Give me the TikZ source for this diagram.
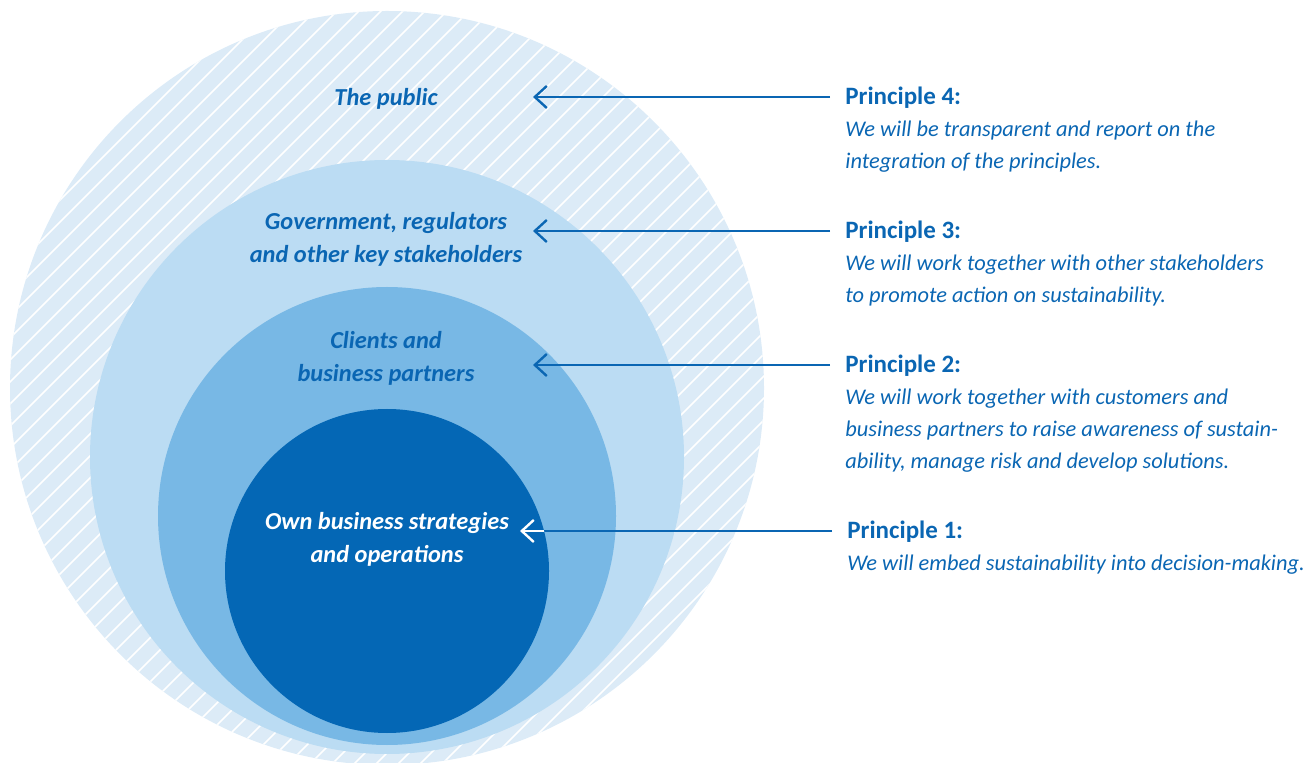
\documentclass[tikz,border=0pt]{standalone}
\usepackage{fontspec}
\setmainfont{Carlito}
\usetikzlibrary{arrows.meta}
\definecolor{ringA}{HTML}{DCEBF7}
\definecolor{ringB}{HTML}{BBDCF3}
\definecolor{ringC}{HTML}{78B8E5}
\definecolor{ringD}{HTML}{0467B5}
\definecolor{ink}{HTML}{0A66B3}

\begin{document}
\begin{tikzpicture}[x=0.5pt,y=-0.5pt,
		ring/.style={circle, inner sep=0pt, draw=none},
		hatch/.style={white, line width=0.8pt},
		pointer/.style={ink, line width=1.2pt, -{Straight Barb[length=6pt,width=11pt,line width=1.2pt]}},
		circlab/.style={ink, align=center, font=\bfseries\itshape\fontsize{12.2}{16.5}\selectfont},
		princ/.style={ink, anchor=west, inner xsep=7.5pt, inner ysep=0pt, font=\bfseries\fontsize{12.5}{15}\selectfont},
		desc/.style={ink, anchor=north west, inner sep=0pt, align=left, font=\itshape\fontsize{11.2}{16}\selectfont}]
	\useasboundingbox (0,0) rectangle (1310,763);

	\node[ring, fill=ringA, minimum size=377pt] (public) at (387,388) {};
	\begin{scope}
		\clip (387,388) circle (188.5pt);
		\foreach \c in {238,260,...,1330}
			\draw[hatch] (\c,0) -- ++(-800,800);
	\end{scope}
	\node[ring, fill=ringB, minimum size=297pt] (gov) at (387,457) {};
	\node[ring, fill=ringC, minimum size=229pt] (clients) at (387,516) {};
	\node[ring, fill=ringD, minimum size=162pt] (own) at (387,571) {};

	\node[circlab] (lpublic) at (386,99) {The public};
	\node[circlab] (lgov) at (386,239) {Government, regulators\\and other key stakeholders};
	\node[circlab] (lclients) at (386,358) {Clients and\\business partners};
	\node[circlab, white] (lown) at (387,539) {Own business strategies\\and operations};

	\coordinate (t4) at (533,97);
	\coordinate (t3) at (533,231);
	\coordinate (t2) at (533,365);
	\coordinate (t1) at (520,531);

	\node[princ] (p4) at (830,98) {Principle 4:};
	\node[princ] (p3) at (830,232) {Principle 3:};
	\node[princ] (p2) at (830,366) {Principle 2:};
	\node[princ] (p1) at (832,532) {Principle 1:};

	\node[desc] (d4) at (845,121) {We will be transparent and report on the\\integration of the principles.};
	\node[desc] (d3) at (845,255) {We will work together with other stakeholders\\to promote action on sustainability.};
	\node[desc] (d2) at (845,389) {We will work together with customers and\\business partners to raise awareness of sustain-\\ability, manage risk and develop solutions.};
	\node[desc] (d1) at (847,555) {We will embed sustainability into decision-making.};

	\foreach \i in {4,3,2,1}
		\draw[pointer] (p\i.west |- t\i) -- (t\i);
	\begin{scope}
		\clip (387,571) circle (81pt);
		\draw[pointer, white] (p1.west |- t1) -- (t1);
	\end{scope}
\end{tikzpicture}
\end{document}
